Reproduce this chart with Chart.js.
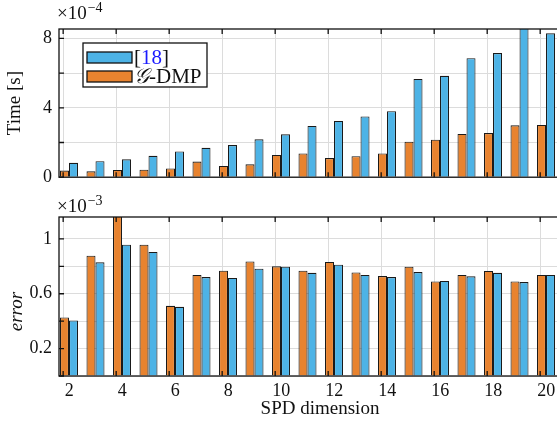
<!DOCTYPE html>
<html>
<head>
<meta charset="utf-8">
<script src="https://cdn.jsdelivr.net/npm/chart.js@4.4.1/dist/chart.umd.min.js"></script>
<style>
  html, body { margin: 0; padding: 0; background: #fff; overflow: hidden; }
  #wrap { position: relative; width: 557px; height: 421px; overflow: hidden; }
  .panel { position: absolute; left: 0; width: 590px; }
  #panelTop { top: 0; height: 195px; }
  #panelBot { top: 195px; height: 226px; }
</style>
</head>
<body>
<div id="wrap">
  <div class="panel" id="panelTop"><canvas id="graficaTiempo"></canvas></div>
  <div class="panel" id="panelBot"><canvas id="graficaError"></canvas></div>
</div>
<script>
// datos
const dims = [2, 3, 4, 5, 6, 7, 8, 9, 10, 11, 12, 13, 14, 15, 16, 17, 18, 19, 20];
const xTickLabels = [2, 4, 6, 8, 10, 12, 14, 16, 18, 20];

// tiempo, en unidades de 1e-4 s
const timeRef  = [0.83, 0.92, 1.03, 1.23, 1.48, 1.69, 1.85, 2.18, 2.47, 2.95, 3.24, 3.50, 3.80, 5.66, 5.84, 6.86, 7.15, 9.00, 8.29];
const timeGdmp = [0.38, 0.34, 0.42, 0.43, 0.50, 0.90, 0.65, 0.74, 1.28, 1.37, 1.10, 1.21, 1.37, 2.05, 2.16, 2.49, 2.54, 2.99, 3.01];
const timeTickLabels = [0, 4, 8];

// error, en unidades de 1e-3
const errRef  = [0.405, 0.829, 0.958, 0.905, 0.505, 0.722, 0.715, 0.783, 0.797, 0.753, 0.812, 0.737, 0.722, 0.758, 0.693, 0.727, 0.753, 0.685, 0.737];
const errGdmp = [0.427, 0.878, 1.180, 0.958, 0.512, 0.737, 0.768, 0.836, 0.800, 0.768, 0.832, 0.756, 0.729, 0.797, 0.690, 0.737, 0.766, 0.690, 0.737];
const errTickLabels = [0.2, 0.6, 1];

const AZUL = '#4DB3E6';
const NARANJA = '#E8832F';
const FUENTE = "'Liberation Serif', 'Times New Roman', serif";
const gridShift = -0.22; // las lineas de rejilla van un poco a la izquierda de las barras

function puntos(vals) {
  return dims.map((d, i) => ({ x: d, y: vals[i] }));
}

// marco tipo matlab con ticks hacia dentro
const marco = {
  id: 'marco',
  afterDraw(chart) {
    const { ctx, chartArea: a, scales } = chart;
    ctx.save();
    ctx.strokeStyle = '#111';
    ctx.lineWidth = 1.3;
    ctx.strokeRect(a.left, a.top, a.right - a.left, a.bottom - a.top);
    ctx.beginPath();
    scales.x.ticks.forEach(t => {
      const px = scales.x.getPixelForValue(t.value);
      ctx.moveTo(px, a.top); ctx.lineTo(px, a.top + 5);
      ctx.moveTo(px, a.bottom); ctx.lineTo(px, a.bottom - 5);
    });
    scales.y.ticks.forEach(t => {
      const py = scales.y.getPixelForValue(t.value);
      ctx.moveTo(a.left, py); ctx.lineTo(a.left + 5, py);
    });
    ctx.stroke();

    // exponente y titulo del eje y
    const o = chart.options.plugins.marco;
    ctx.fillStyle = '#111';
    ctx.font = '19px ' + FUENTE;
    ctx.textAlign = 'left';
    ctx.textBaseline = 'alphabetic';
    ctx.fillText('\u00d710', a.left - 2, a.top - o.expBase);
    const w = ctx.measureText('\u00d710').width;
    ctx.font = '14px ' + FUENTE;
    ctx.fillText('\u2212' + o.exp, a.left - 2 + w + 1, a.top - o.expBase - 7);

    ctx.translate(o.titleX, (a.top + a.bottom) / 2 + o.titleDy);
    ctx.rotate(-Math.PI / 2);
    ctx.textAlign = 'center';
    ctx.textBaseline = 'middle';
    ctx.font = (o.italic ? 'italic ' : '') + '19px ' + FUENTE;
    ctx.fillText(o.title, 0, 0);
    ctx.restore();
  }
};

// leyenda dibujada a mano (el "18" va en azul)
const leyenda = {
  id: 'leyenda',
  afterDraw(chart) {
    if (!chart.options.plugins.leyenda.show) return;
    const { ctx, chartArea: a } = chart;
    const x = a.left + 24, y = a.top + 14;
    ctx.save();
    ctx.fillStyle = '#fff';
    ctx.fillRect(x, y, 124, 44);
    ctx.strokeStyle = '#111';
    ctx.lineWidth = 1.3;
    ctx.strokeRect(x, y, 124, 44);
    ctx.fillStyle = AZUL;
    ctx.fillRect(x + 4, y + 9, 45, 11);
    ctx.strokeRect(x + 4, y + 9, 45, 11);
    ctx.fillStyle = NARANJA;
    ctx.fillRect(x + 4, y + 28, 45, 11);
    ctx.strokeRect(x + 4, y + 28, 45, 11);

    ctx.font = '21px ' + FUENTE;
    ctx.textBaseline = 'alphabetic';
    let tx = x + 51;
    ctx.fillStyle = '#111';
    ctx.fillText('[', tx, y + 21);
    tx += ctx.measureText('[').width;
    ctx.fillStyle = '#1a1aff';
    ctx.fillText('18', tx, y + 21);
    tx += ctx.measureText('18').width;
    ctx.fillStyle = '#111';
    ctx.fillText(']', tx, y + 21);

    tx = x + 51;
    ctx.font = 'italic 21px ' + FUENTE;
    ctx.fillText('\u{1D4A2}', tx, y + 40);
    tx += ctx.measureText('\u{1D4A2}').width;
    ctx.font = '21px ' + FUENTE;
    ctx.fillText('-DMP', tx, y + 40);
    ctx.restore();
  }
};

function crearGrafica(id, refVals, gdmpVals, cfg) {
  const ctx = document.getElementById(id).getContext('2d');
  return new Chart(ctx, {
    type: 'bar',
    data: {
      datasets: [
        { label: 'G-DMP', data: puntos(gdmpVals), backgroundColor: NARANJA, borderColor: '#1a1a1a', borderWidth: 1.1 },
        { label: '[18]', data: puntos(refVals), backgroundColor: AZUL, borderColor: '#1a1a1a', borderWidth: 1.1 }
      ]
    },
    options: {
      responsive: true,
      maintainAspectRatio: false,
      animation: false,
      categoryPercentage: 0.68,
      barPercentage: 1.0,
      layout: { padding: { left: 0, top: cfg.padTop, right: 9, bottom: 0 } },
      plugins: {
        legend: { display: false },
        tooltip: { enabled: false },
        marco: cfg.marco,
        leyenda: { show: cfg.leyenda }
      },
      scales: {
        x: {
          type: 'linear',
          min: 1.623,
          max: 21.32,
          offset: false,
          afterBuildTicks: axis => { axis.ticks = xTickLabels.map(v => ({ value: v + gridShift })); },
          afterFit: axis => { axis.height = cfg.xHeight; },
          grid: { color: '#dcdcdc', lineWidth: 1, drawTicks: false, offset: false },
          border: { display: false },
          ticks: {
            display: cfg.xLabels,
            padding: 4,
            labelOffset: 6,
            color: '#111',
            font: { family: FUENTE, size: 18 },
            callback: (v, i) => xTickLabels[i]
          },
          title: {
            display: cfg.xLabels,
            text: 'SPD dimension',
            color: '#111',
            font: { family: FUENTE, size: 19 },
            padding: { top: 0, bottom: 1 }
          }
        },
        y: {
          min: 0,
          max: cfg.yMax,
          afterFit: axis => { axis.width = 59; },
          grid: { color: '#dcdcdc', lineWidth: 1, drawTicks: false },
          border: { display: false },
          ticks: {
            stepSize: cfg.yStep,
            includeBounds: false,
            padding: 7,
            color: '#111',
            font: { family: FUENTE, size: 18 },
            callback: cfg.yLabel
          }
        }
      }
    },
    plugins: [marco, leyenda]
  });
}

window.graficaTiempo = crearGrafica('graficaTiempo', timeRef, timeGdmp, {
  padTop: 29, xHeight: 8, xLabels: false, yMax: 8.54, yStep: 2, leyenda: true,
  yLabel: v => timeTickLabels.includes(Math.round(v)) && Math.abs(v - Math.round(v)) < 1e-6 ? Math.round(v) : '',
  marco: { exp: '4', expBase: 10, title: 'Time [s]', italic: false, titleX: 15, titleDy: 0 }
});

window.graficaError = crearGrafica('graficaError', errRef, errGdmp, {
  padTop: 22, xHeight: 45, xLabels: true, yMax: 1.16, yStep: 0.2, leyenda: false,
  yLabel: v => {
    const r = Math.round(v * 10) / 10;
    return errTickLabels.includes(r) ? String(r) : '';
  },
  marco: { exp: '3', expBase: 5, title: 'error', italic: true, titleX: 17, titleDy: 15 }
});
</script>
</body>
</html>
